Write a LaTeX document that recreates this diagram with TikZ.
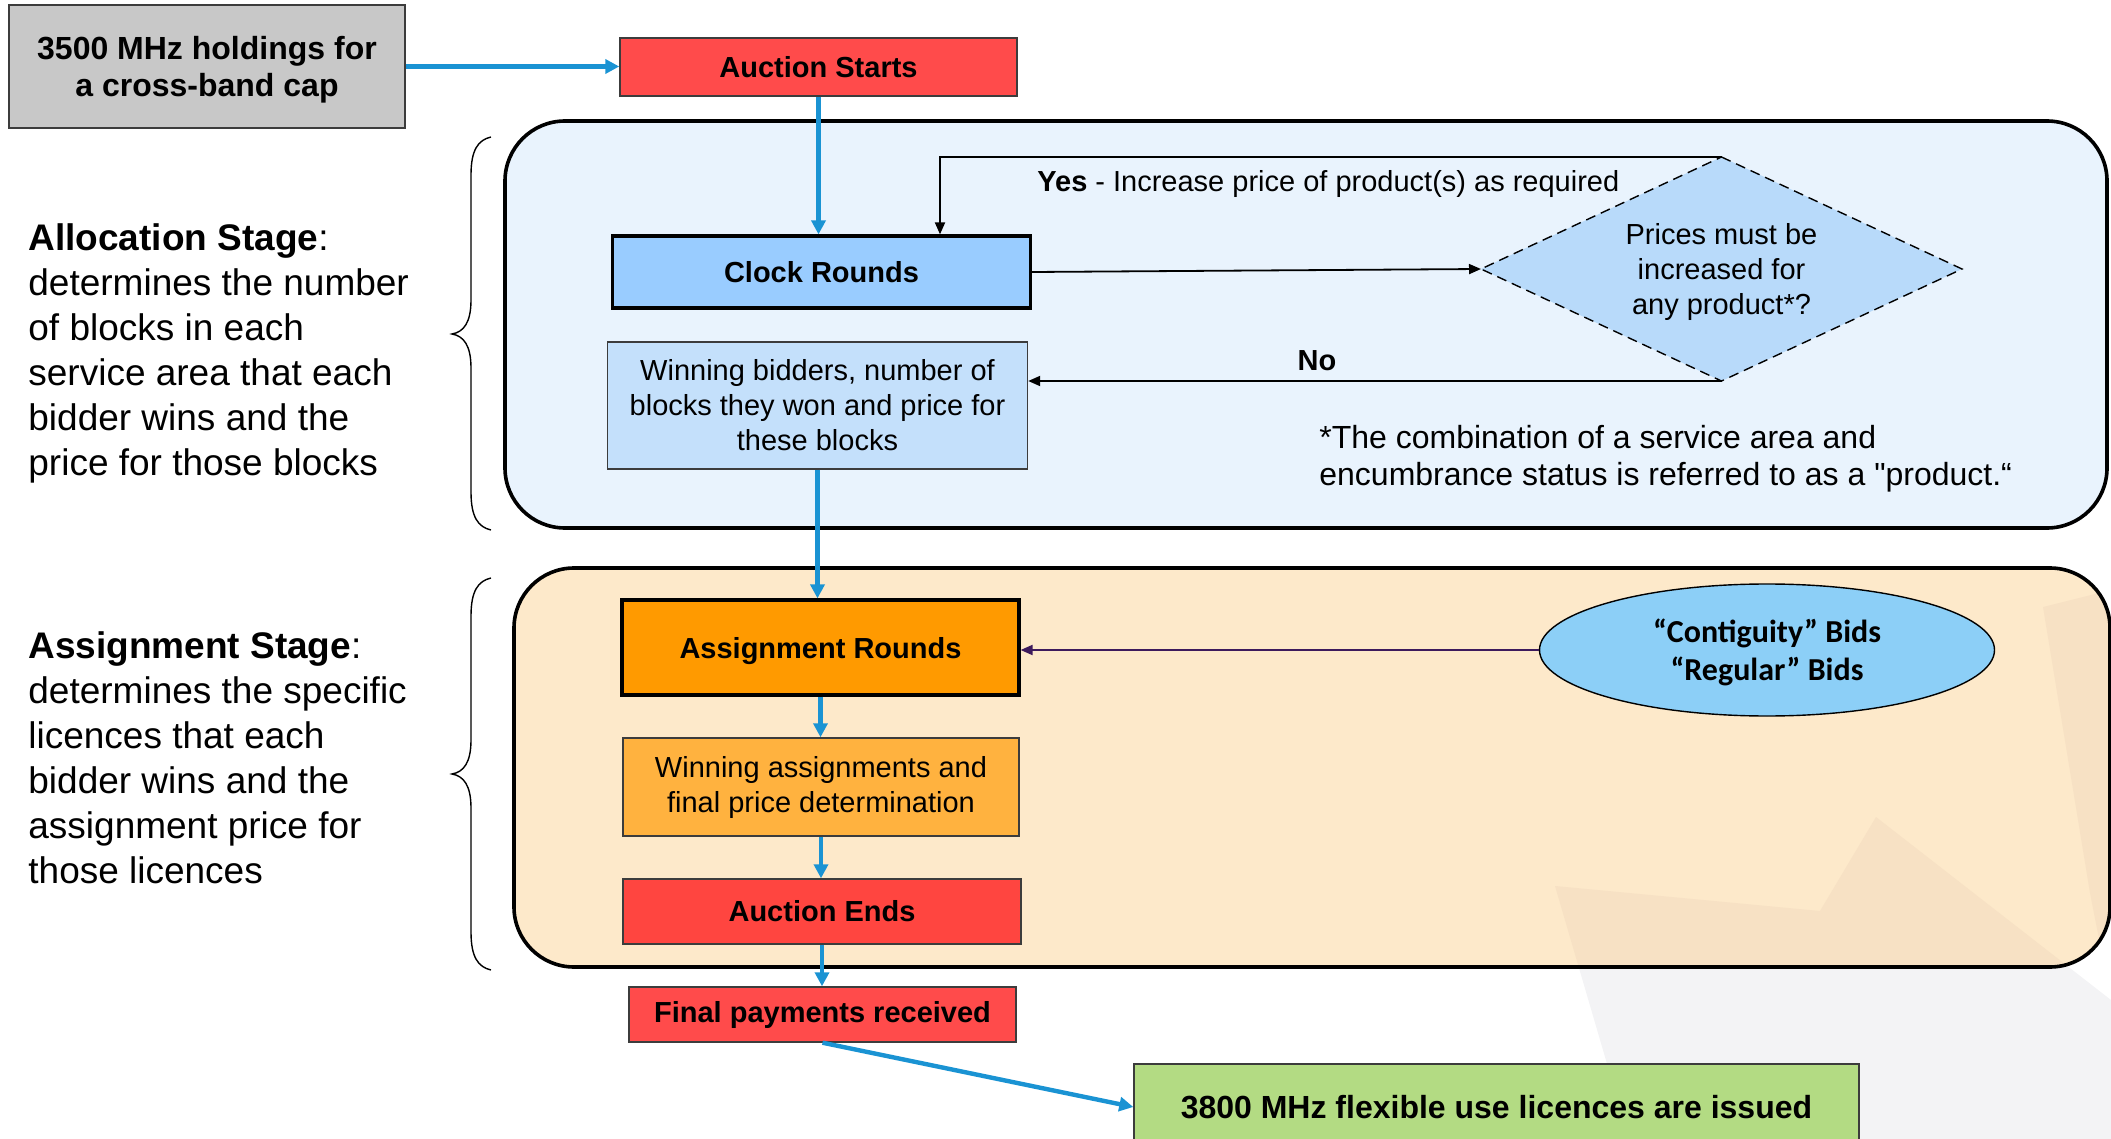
\documentclass[tikz,border=0pt]{standalone}
\usepackage{fontspec}
\setmainfont{Liberation Sans}
\newfontfamily\rawfont{Liberation Sans}
\newfontfamily\calib{Carlito}
\usetikzlibrary{shapes.geometric,arrows.meta}
\definecolor{grayfill}{HTML}{C8C8C8}
\definecolor{graybord}{HTML}{3C3C3C}
\definecolor{redA}{HTML}{FF4B4B}
\definecolor{redE}{HTML}{FF4540}
\definecolor{allocfill}{HTML}{E9F3FD}
\definecolor{assignfill}{HTML}{FDE9CA}
\definecolor{crfill}{HTML}{99CCFF}
\definecolor{wbfill}{HTML}{C4E0FB}
\definecolor{diafill}{HTML}{B8DAFA}
\definecolor{arfill}{HTML}{FF9A00}
\definecolor{wafill}{HTML}{FFB23F}
\definecolor{ellfill}{HTML}{8CCFF7}
\definecolor{greenfill}{HTML}{B3DB83}
\definecolor{arrowblue}{HTML}{1A93D3}
\definecolor{purp}{HTML}{3D1A5C}
\definecolor{wmgray}{HTML}{F3F3F5}
\definecolor{wmpeach}{HTML}{F7E1C4}
\begin{document}
\begin{tikzpicture}[x=0.5pt,y=-0.5pt,
  box/.style={draw=graybord, line width=0.7pt, inner sep=0pt, align=center,
    font=\fontsize{14.5}{17.5}\selectfont},
  boldbox/.style={box, font=\fontsize{14.5}{17.5}\selectfont\bfseries},
  thickbox/.style={boldbox, draw=black, line width=1.6pt},
  bluearrow/.style={draw=arrowblue, line width=2.2pt, -{Triangle[length=7pt,width=7pt]}},
  blackarrow/.style={draw=black, line width=0.9pt, -{Triangle[length=6pt,width=5pt]}},
  purplearrow/.style={draw=purp, line width=1pt, -{Triangle[length=6pt,width=5pt]}},
  stage/.style={line width=1.8pt, rounded corners=30pt},
  sidetext/.style={anchor=north west, align=left, inner sep=0pt,
    font=\fontsize{18.5}{22.5}\selectfont},
  bracestyle/.style={draw=black, line width=0.7pt}
]
\useasboundingbox (0,0) rectangle (2111,1139);

% watermark (outside the assignment area)
\fill[wmgray] (1555,886) -- (1820,911) -- (1876,817) -- (2111,1000) -- (2111,1139) -- (1629,1139) -- cycle;

% stage areas
\fill[stage, allocfill] (505,121) rectangle (2107,528);
\draw[stage] (505,121) rectangle (2107,528);
\fill[stage, assignfill] (514,568) rectangle (2110,967);
\begin{scope}
  \clip[rounded corners=30pt] (514,568) rectangle (2110,967);
  \fill[wmpeach] (1555,886) -- (1820,911) -- (1876,817) -- (2111,1000) -- (2111,1139) -- (1629,1139) -- cycle;
  \fill[wmpeach] (2043,607) -- (2111,590) -- (2111,1000) -- (2090,893) -- cycle;
\end{scope}
\draw[stage] (514,568) rectangle (2110,967);

% braces
\draw[bracestyle] (491,137) .. controls (478,140) and (471,150) .. (471,175) -- (471,300)
  .. controls (471,322) and (464,332) .. (452,334) .. controls (464,336) and (471,346) .. (471,368)
  -- (471,492) .. controls (471,517) and (478,527) .. (491,530);
\draw[bracestyle] (491,578) .. controls (478,581) and (471,591) .. (471,616) -- (471,740)
  .. controls (471,762) and (464,772) .. (452,774) .. controls (464,776) and (471,786) .. (471,808)
  -- (471,932) .. controls (471,957) and (478,967) .. (491,970);

% side texts
\node[sidetext] (alloc) at (28,223) {\textbf{Allocation Stage}:\\determines the number\\of blocks in each\\service area that each\\bidder wins and the\\price for those blocks};
\node[sidetext] (assign) at (28,631) {\textbf{Assignment Stage}:\\determines the specific\\licences that each\\bidder wins and the\\assignment price for\\those licences};

% nodes
\node[box, fill=grayfill, minimum width=198pt, minimum height=61.5pt, text depth=0pt,
  font=\fontsize{16}{18.9}\selectfont\bfseries] (gray) at (207,66.5) {3500 MHz holdings for\\a cross-band cap};
\node[boldbox, fill=redA, minimum width=198.5pt, minimum height=29pt] (as) at (818.5,67) {Auction Starts};
\node[thickbox, fill=crfill, minimum width=209pt, minimum height=36pt] (cr) at (821.5,272) {Clock Rounds};
\node[box, fill=wbfill, minimum width=210pt, minimum height=63.5pt] (wb) at (817.5,405.5) {Winning bidders, number of\\blocks they won and price for\\these blocks};

% decision diamond
\coordinate (diaN) at (1721.5,157);
\coordinate (diaS) at (1721.5,381);
\coordinate (diaW) at (1481,269);
\coordinate (diaE) at (1962,269);
\fill[diafill] (diaN) -- (diaE) -- (diaS) -- (diaW) -- cycle;
\draw[dash pattern=on 5pt off 3pt, line width=0.7pt] (diaN) -- (diaE) -- (diaS) -- (diaW) -- cycle;
\node[inner sep=0pt, align=center, font=\fontsize{14.5}{17.5}\selectfont] (dia) at (1721.5,272) {Prices must be\\increased for\\any product*?};

\node[thickbox, fill=arfill, minimum width=198.5pt, minimum height=47.5pt, text depth=0pt] (ar) at (820.5,647.5) {Assignment Rounds};
\node[box, fill=wafill, minimum width=198pt, minimum height=49pt] (wa) at (821,787) {Winning assignments and\\final price determination};
\node[boldbox, fill=redE, minimum width=199pt, minimum height=32.5pt] (ae) at (822,911.5) {Auction Ends};
\node[boldbox, fill=redA, minimum width=193.5pt, minimum height=27.5pt] (fp) at (822.5,1014.5) {Final payments received};
\node[box, fill=greenfill, minimum width=362.5pt, minimum height=43pt,
  font=\fontsize{16}{18.9}\selectfont\bfseries] (gr) at (1496.5,1107) {3800 MHz flexible use licences are issued};
\node[ellipse, draw=black, line width=0.7pt, fill=ellfill, inner sep=0pt, text depth=0pt,
  minimum width=227.5pt, minimum height=66pt, align=center,
  font=\calib\fontsize{16}{18.9}\selectfont\bfseries] (ell) at (1767,650) {“Contiguity” Bids\\“Regular” Bids};

% labels
\node[anchor=west, inner sep=0pt, font=\fontsize{14.5}{17.5}\selectfont] (yes) at (1037,184) {\textbf{Yes} - Increase price of product(s) as required};
\node[inner sep=0pt, font=\fontsize{14.5}{17.5}\selectfont\bfseries] (no) at (1317,361) {No};
\node[sidetext, font=\fontsize{16}{18.3}\selectfont] (fn) at (1319,425) {*The combination of a service area and\\encumbrance status is referred to as a {\rawfont"}product.“};

% connectors
\coordinate (yk) at (940,157);
\draw[bluearrow] (gray.east) -- (gray.east -| as.west);
\draw[bluearrow] (as.south) -- (as.south |- cr.north);
\draw[blackarrow] (cr.east) -- (diaW);
\draw[blackarrow] (diaN) -- (yk) -- (yk |- cr.north);
\draw[blackarrow] (diaS) -- (diaS -| wb.east);
\draw[bluearrow] (wb.south) -- (wb.south |- ar.north);
\draw[purplearrow] (ell.west) -- (ell.west -| ar.east);
\draw[bluearrow] (ar.south) -- (ar.south |- wa.north);
\draw[bluearrow] (wa.south) -- (wa.south |- ae.north);
\draw[bluearrow] (ae.south) -- (ae.south |- fp.north);
\draw[bluearrow] (fp.south) -- (gr.west);
\end{tikzpicture}
\end{document}
